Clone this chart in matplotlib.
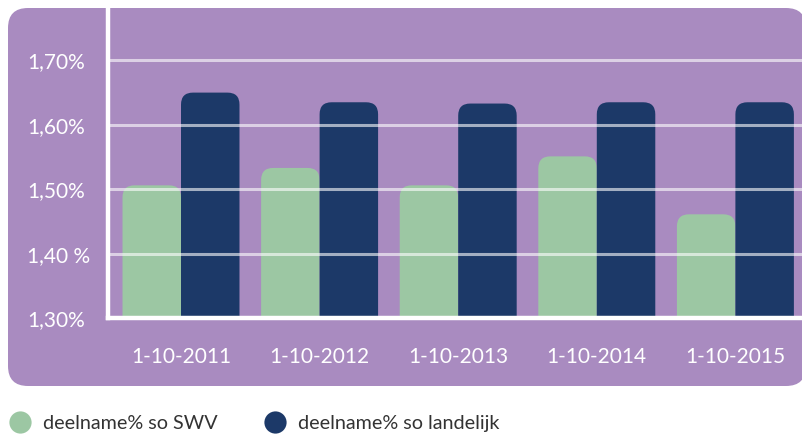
import matplotlib
matplotlib.use("Agg")
import matplotlib.pyplot as plt
from matplotlib.patches import FancyBboxPatch
from matplotlib.lines import Line2D
import numpy as np

# ---- data ----
categories = ["1-10-2011", "1-10-2012", "1-10-2013", "1-10-2014", "1-10-2015"]
swv = [1.506, 1.533, 1.506, 1.551, 1.461]
landelijk = [1.650, 1.635, 1.633, 1.635, 1.635]
ytick_vals = [1.30, 1.40, 1.50, 1.60, 1.70]
ytick_labels = ["1,30%", "1,40 %", "1,50%", "1,60%", "1,70%"]
series_names = ["deelname% so SWV", "deelname% so landelijk"]

# ---- style ----
PURPLE = "#a98bc0"
GREEN = "#9cc7a3"
NAVY = "#1c3968"
FONT = "Lato"
plt.rcParams["font.family"] = [FONT, "DejaVu Sans"]

W, H, DPI = 803, 434, 100
fig = plt.figure(figsize=(W / DPI, H / DPI), dpi=DPI)
fig.patch.set_facecolor("white")

# rounded purple panel (inches)
panel = FancyBboxPatch((8 / DPI, (H - 386) / DPI), (806 - 8) / DPI, (386 - 8) / DPI,
                       boxstyle="round,pad=0,rounding_size=0.2",
                       transform=fig.dpi_scale_trans, facecolor=PURPLE,
                       edgecolor="none", zorder=-5)
fig.add_artist(panel)

# axes geometry in pixels
ax_l, ax_r, ax_b, ax_t = 108, 803, 318, 0
ax = fig.add_axes([ax_l / W, (H - ax_b) / H, (ax_r - ax_l) / W, (ax_b - ax_t) / H])
ax.set_facecolor("none")

pitch_px = 138.6
x0_px = 181
xlim = (-(x0_px - ax_l) / pitch_px, (ax_r - x0_px) / pitch_px)
px_per_01 = 64.4
ylim = (1.30, 1.30 + (ax_b - ax_t) / px_per_01 * 0.1)
ax.set_xlim(*xlim)
ax.set_ylim(*ylim)

# data units per pixel
xu = (xlim[1] - xlim[0]) / (ax_r - ax_l)
yu = (ylim[1] - ylim[0]) / (ax_b - ax_t)
radius_px = 12
rs = radius_px * xu
asp = yu / xu

bw = 0.422
x = np.arange(len(categories))
for vals, color, off in [(swv, GREEN, -bw / 2), (landelijk, NAVY, bw / 2)]:
    for xi, v in zip(x, vals):
        base = ylim[0] - 0.05
        p = FancyBboxPatch((xi + off - bw / 2, base), bw, v - base,
                           boxstyle=f"round,pad=0,rounding_size={rs}",
                           mutation_aspect=asp, facecolor=color,
                           edgecolor="none", zorder=2)
        ax.add_patch(p)

# gridlines on top of bars
for yv in ytick_vals[1:]:
    ax.axhline(yv, color="white", alpha=0.6, lw=2.2, zorder=3)

ax.set_xticks(x)
ax.set_xticklabels(categories)
ax.set_yticks(ytick_vals)
ax.set_yticklabels(ytick_labels)
ax.tick_params(axis="both", length=0, colors="white", labelsize=15)
ax.tick_params(axis="x", pad=21)
ax.tick_params(axis="y", pad=(ax_l - 27) * 72 / DPI)
for lab in ax.get_yticklabels():
    lab.set_horizontalalignment("left")

for s in ["top", "right"]:
    ax.spines[s].set_visible(False)
for s in ["left", "bottom"]:
    ax.spines[s].set_color("white")
    ax.spines[s].set_linewidth(3.2)
    ax.spines[s].set_zorder(4)

handles = [Line2D([], [], marker="o", linestyle="none", markersize=16,
                  markerfacecolor=c, markeredgecolor="none") for c in (GREEN, NAVY)]
leg = fig.legend(handles, series_names, loc="lower left",
                 bbox_to_anchor=(6.0 / W, 0.5 / H), ncol=2, frameon=False,
                 fontsize=14.2, handletextpad=0.57, columnspacing=2.3,
                 borderaxespad=0.0, borderpad=0.1, handlelength=1.2)
for t in leg.get_texts():
    t.set_color("#333333")

fig.savefig("out.png", dpi=DPI, facecolor="white")
